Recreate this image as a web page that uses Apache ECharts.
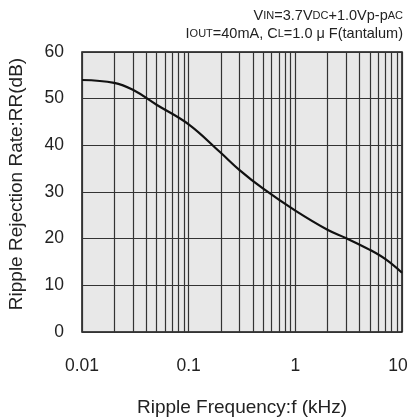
<!DOCTYPE html>
<html>
<head>
<meta charset="utf-8">
<script src="https://cdn.jsdelivr.net/npm/echarts@6/dist/echarts.min.js"></script>
<style>
  html, body { margin: 0; padding: 0; background: #fff; }
  #myChart { width: 409px; height: 419px; }
</style>
</head>
<body>
<div id="myChart"></div>
<script>
// ripple frequency (kHz) and ripple rejection (dB)
var freq = [0.01, 0.02, 0.03, 0.05, 0.1, 0.2, 0.3, 0.5, 1, 2, 3, 5, 7, 10];
var rr = [54.0, 53.4, 51.9, 48.7, 44.5, 38.4, 34.7, 30.7, 26.0, 21.9, 20.1, 17.6, 15.6, 12.7];
// minor log grid lines (2..9 of each decade)
var minorGrid = [0.02, 0.03, 0.04, 0.05, 0.06, 0.07, 0.08, 0.09,
                 0.2, 0.3, 0.4, 0.5, 0.6, 0.7, 0.8, 0.9,
                 2, 3, 4, 5, 6, 7, 8, 9];
var xTicks = [0.01, 0.1, 1, 10];
var yTicks = [0, 10, 20, 30, 40, 50, 60];

var gridColor = '#333';
var font = 'Liberation Sans, Arial, sans-serif';
var big = { fontSize: 14.5, color: '#222', fontWeight: 'normal', fontFamily: font };
var small = { fontSize: 11, color: '#222', fontWeight: 'normal', fontFamily: font };

var myChart = echarts.init(document.getElementById('myChart'), null, { renderer: 'canvas' });
myChart.setOption({
  animation: false,
  backgroundColor: '#fff',
  textStyle: { fontFamily: font },
  title: [{
    right: 1, top: 3,
    text: '{b|V}{s|IN}{b|=3.7V}{s|DC}{b|+1.0Vp-p}{s|AC}',
    textStyle: { rich: { b: big, s: small } }
  }, {
    right: 1, top: 21,
    text: '{b|I}{s|OUT}{b|=40mA, C}{s|L}{b|=1.0 μ F(tantalum)}',
    textStyle: { rich: { b: big, s: small } }
  }],
  grid: {
    left: 82, right: 7, top: 52, bottom: 87,
    outerBoundsMode: 'none',
    show: true, backgroundColor: '#e8e8e8', borderColor: '#111', borderWidth: 1.5
  },
  xAxis: {
    type: 'log',
    logBase: 10,
    min: xTicks[0],
    max: xTicks[xTicks.length - 1],
    name: 'Ripple Frequency:f (kHz)',
    nameLocation: 'middle',
    nameGap: 66,
    nameTextStyle: { fontSize: 19, color: '#222', fontFamily: font },
    axisLine: { show: false },
    axisTick: { show: false },
    axisLabel: {
      fontSize: 17.5, color: '#222', margin: 25, fontFamily: font,
      formatter: function (v) {
        var s = String(+v.toPrecision(3));
        // last label sits a little inside the right edge
        return v >= xTicks[xTicks.length - 1] ? '{e|' + s + '}' : s;
      },
      rich: { e: { fontSize: 17.5, color: '#222', fontFamily: font, padding: [0, 8, 0, 0] } }
    },
    splitLine: { show: true, lineStyle: { color: gridColor, width: 1.2 } }
  },
  yAxis: {
    type: 'value',
    min: yTicks[0],
    max: yTicks[yTicks.length - 1],
    interval: 10,
    name: 'Ripple Rejection Rate:RR(dB)',
    nameLocation: 'middle',
    nameGap: 56,
    nameTextStyle: { fontSize: 19, color: '#222', fontFamily: font, padding: [0, 0, 0, 16] },
    axisLine: { show: false },
    axisTick: { show: false },
    axisLabel: { fontSize: 17.5, color: '#222', margin: 18, fontFamily: font },
    splitLine: { show: true, lineStyle: { color: gridColor, width: 1.2 } }
  },
  series: [{
    type: 'line',
    data: freq.map(function (f, i) { return [f, rr[i]]; }),
    smooth: 0.4,
    symbol: 'none',
    lineStyle: { color: '#111', width: 2.2 },
    z: 5,
    markLine: {
      silent: true,
      symbol: ['none', 'none'],
      label: { show: false },
      lineStyle: { color: gridColor, width: 1.2, type: 'solid' },
      data: minorGrid.map(function (v) { return { xAxis: v }; })
    }
  }]
});
</script>
</body>
</html>
